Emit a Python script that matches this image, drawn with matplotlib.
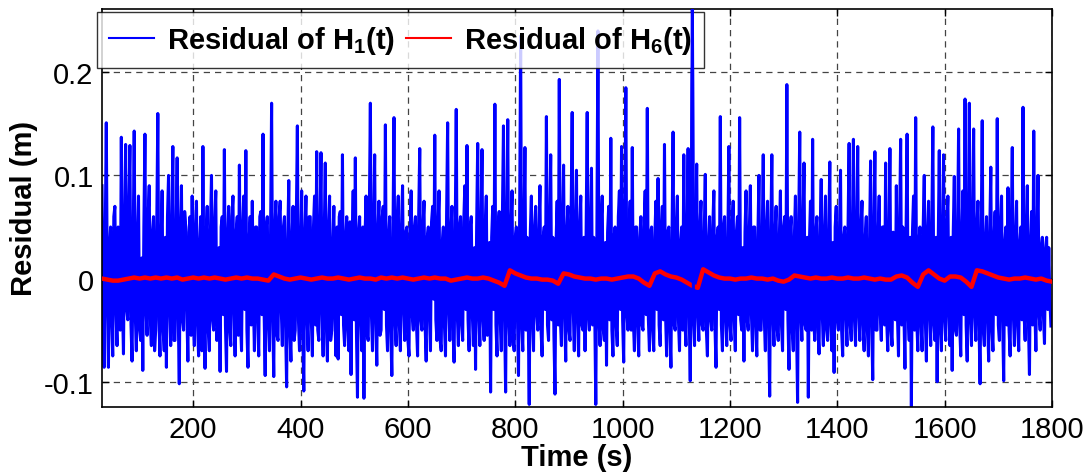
import numpy as np
import matplotlib
matplotlib.use("Agg")
import matplotlib.pyplot as plt
from matplotlib.ticker import FixedLocator, FixedFormatter

# ---------------- data ----------------
blue_t0, blue_dt = 30, 2          # sample grid of H1 residual (s)
resid_h1 = [
    # 30 .. 128
    0.09, -0.03, -0.086, 0.04, 0.151, -0.02, -0.086, 0.03, 0.05, -0.04, -0.075, 0.06, 0.07, -0.03,
    -0.065, 0.05, 0.04, -0.05, 0.137, -0.02, -0.073, 0.05, 0.130, -0.03, -0.04, 0.07, 0.129, -0.045,
    -0.080, 0.03, 0.143, -0.035, -0.07, 0.04, 0.08, -0.05, -0.06, 0.02, -0.089, 0.05, 0.140, -0.03,
    -0.055, 0.06, 0.09, -0.04, -0.065, 0.045, 0.06, -0.07,
    # 130 .. 228
    -0.05, 0.05, 0.160, -0.04, -0.075, 0.03, 0.085, -0.05, -0.07, 0.04, -0.086, 0.06, 0.10, -0.03,
    -0.065, 0.05, 0.128, -0.06, -0.06, 0.04, 0.117, -0.035, -0.102, 0.05, 0.09, -0.04, -0.05, 0.065,
    0.05, -0.03, -0.08, 0.045, 0.06, -0.055, 0.08, -0.02, -0.065, 0.05, 0.075, -0.045, -0.075, 0.035,
    0.06, -0.07, 0.128, -0.03, -0.087, 0.04, 0.07, -0.05,
    # 230 .. 328
    -0.07, 0.045, 0.10, -0.04, -0.05, 0.055, 0.085, -0.06, -0.04, 0.03, -0.090, 0.05, 0.06, -0.035,
    0.125, -0.045, -0.090, 0.04, 0.07, -0.05, -0.065, 0.06, 0.08, -0.03, -0.075, 0.045, 0.06, -0.055,
    0.110, -0.04, -0.07, 0.05, 0.08, -0.03, 0.124, -0.05, -0.086, 0.035, 0.06, -0.045, 0.075, -0.02,
    -0.07, 0.05, 0.05, -0.04, -0.075, 0.06, 0.065, -0.035,
    # 330 .. 428
    0.140, -0.03, -0.094, 0.05, 0.06, -0.045, -0.07, 0.04, 0.170, -0.035, -0.095, 0.045, 0.075, -0.055,
    -0.06, 0.06, 0.075, -0.03, -0.065, 0.05, 0.06, -0.045, -0.105, 0.035, 0.095, -0.05, -0.08, 0.04,
    0.07, -0.06, -0.05, 0.055, 0.148, -0.04, -0.07, 0.03, 0.085, -0.05, -0.109, 0.045, 0.08, -0.035,
    -0.07, 0.06, 0.06, -0.04, -0.075, 0.05, 0.08, -0.045,
    # 430 .. 528
    0.123, -0.05, -0.06, 0.045, 0.122, -0.03, -0.075, 0.04, 0.112, -0.045, -0.08, 0.05, 0.08, -0.06,
    -0.05, 0.035, 0.07, -0.04, -0.075, 0.05, -0.078, 0.06, 0.065, -0.035, 0.120, -0.045, -0.065, 0.04,
    0.06, -0.05, -0.07, 0.055, -0.093, 0.03, 0.085, -0.04, 0.117, -0.05, -0.115, 0.045, 0.06, -0.035,
    -0.07, 0.05, -0.116, 0.04, 0.08, -0.055, -0.06, 0.06,
    # 530 .. 628
    0.170, -0.035, -0.07, 0.05, 0.120, -0.04, -0.084, 0.045, 0.075, -0.055, -0.05, 0.06, 0.07, -0.03,
    0.149, -0.045, -0.07, 0.04, 0.06, -0.05, -0.094, 0.035, 0.156, -0.04, -0.065, 0.055, 0.08, -0.045,
    -0.07, 0.05, 0.09, -0.03, -0.06, 0.045, 0.05, -0.06, -0.075, 0.04, 0.085, -0.035, -0.05, 0.05,
    0.06, -0.045, -0.075, 0.06, 0.126, -0.04, -0.05, 0.05,
    # 630 .. 728
    0.075, -0.045, -0.08, 0.04, 0.05, -0.035, -0.07, 0.055, 0.07, -0.02, 0.139, -0.04, -0.06, 0.05,
    0.085, -0.06, -0.07, 0.035, 0.05, -0.045, -0.075, 0.06, 0.151, -0.03, -0.06, 0.045, 0.07, -0.05,
    -0.081, 0.04, 0.164, -0.035, -0.065, 0.05, 0.06, -0.045, -0.06, 0.055, 0.09, -0.03, 0.129, -0.04,
    -0.07, 0.05, 0.06, -0.035, -0.065, 0.03, -0.088, 0.05,
    # 730 .. 828
    0.131, -0.035, -0.065, 0.045, 0.125, -0.04, -0.06, 0.05, 0.08, -0.055, -0.05, 0.035, -0.110, 0.04,
    0.07, -0.03, 0.169, -0.045, -0.075, 0.05, 0.065, -0.04, -0.07, 0.06, 0.148, -0.035, -0.110, 0.045,
    0.154, -0.04, -0.065, 0.05, 0.085, -0.06, -0.07, 0.04, 0.05, -0.035, -0.094, 0.05, 0.235, -0.045,
    -0.07, 0.04, 0.127, -0.05, 0.04, -0.03, -0.122, 0.045,
    # 830 .. 928
    0.08, -0.04, -0.07, 0.05, 0.07, -0.035, -0.05, 0.045, 0.09, -0.05, -0.075, 0.04, 0.05, -0.03,
    0.157, -0.045, -0.06, 0.05, 0.12, -0.04, 0.04, -0.055, -0.112, 0.035, 0.075, -0.045, 0.193, -0.04,
    -0.065, 0.05, 0.11, -0.035, -0.08, 0.045, 0.07, -0.05, -0.06, 0.06, 0.161, -0.03, -0.07, 0.045,
    0.105, -0.04, -0.075, 0.05, 0.08, -0.045, -0.05, 0.04,
    # 930 .. 1028
    -0.07, 0.045, 0.161, -0.035, -0.05, 0.05, 0.107, -0.045, 0.04, -0.03, -0.122, 0.04, 0.24, -0.04,
    -0.065, 0.055, 0.08, -0.05, -0.06, 0.035, -0.084, 0.045, 0.07, -0.04, 0.136, -0.05, -0.075, 0.04,
    0.05, -0.045, -0.065, 0.06, 0.085, -0.03, 0.128, -0.04, -0.081, 0.05, 0.185, -0.035, -0.05, 0.045,
    0.075, -0.05, 0.127, -0.04, -0.07, 0.05, 0.05, -0.045,
    # 1030 .. 1128
    -0.075, 0.04, 0.06, -0.045, -0.05, 0.05, 0.085, -0.035, 0.165, -0.04, -0.07, 0.045, 0.05, -0.05,
    -0.07, 0.04, 0.075, -0.03, 0.097, -0.045, -0.065, 0.05, 0.07, -0.04, 0.130, -0.035, -0.075, 0.045,
    0.05, -0.05, -0.086, 0.04, 0.142, -0.045, -0.05, 0.05, 0.08, -0.04, -0.07, 0.035, 0.05, -0.05,
    0.120, -0.04, -0.065, 0.045, 0.126, -0.03, -0.099, 0.05,
    # 1130 .. 1228
    0.261, -0.04, -0.065, 0.045, 0.111, -0.035, -0.06, 0.05, 0.075, -0.045, -0.05, 0.04, 0.101, -0.05,
    -0.075, 0.035, 0.06, -0.04, -0.05, 0.05, 0.085, -0.045, -0.086, 0.04, 0.05, -0.03, 0.157, -0.045,
    -0.07, 0.05, 0.06, -0.04, -0.065, 0.035, 0.128, -0.045, -0.06, 0.05, 0.075, -0.04, -0.07, 0.045,
    0.06, -0.035, 0.156, -0.04, -0.05, 0.03, -0.08, 0.045,
    # 1230 .. 1328
    0.085, -0.04, -0.05, 0.045, 0.09, -0.035, -0.07, 0.05, 0.05, -0.045, -0.075, 0.04, 0.10, -0.05,
    -0.05, 0.035, 0.120, -0.04, -0.07, 0.05, 0.075, -0.045, -0.114, 0.04, 0.120, -0.035, -0.065, 0.045,
    0.07, -0.05, -0.06, 0.04, 0.085, -0.045, -0.07, 0.05, 0.06, -0.03, 0.188, -0.04, -0.088, 0.045,
    0.06, -0.05, -0.07, 0.04, 0.08, -0.045, -0.120, 0.05,
    # 1330 .. 1428
    0.142, -0.035, -0.06, 0.05, 0.112, -0.045, -0.05, 0.04, -0.115, 0.035, 0.075, -0.05, 0.135, -0.04,
    -0.06, 0.045, 0.06, -0.05, -0.073, 0.04, 0.096, -0.035, -0.065, 0.045, 0.08, -0.05, -0.06, 0.04,
    0.113, -0.045, -0.07, 0.035, -0.091, 0.05, 0.07, -0.04, -0.05, 0.045, 0.105, -0.05, -0.075, 0.04,
    0.05, -0.035, -0.065, 0.05, 0.131, -0.045, -0.06, 0.04,
    # 1430 .. 1528
    0.135, -0.04, -0.065, 0.045, 0.128, -0.035, -0.06, 0.05, 0.075, -0.045, -0.07, 0.04, 0.06, -0.05,
    -0.075, 0.035, 0.114, -0.04, -0.098, 0.045, 0.123, -0.05, -0.05, 0.04, 0.08, -0.035, -0.06, 0.05,
    0.05, -0.045, 0.112, -0.04, -0.07, 0.035, 0.126, -0.05, -0.065, 0.045, 0.04, -0.04, 0.09, -0.035,
    -0.075, 0.05, 0.135, -0.045, 0.05, -0.03, -0.087, 0.04,
    # 1530 .. 1628
    0.140, -0.035, -0.06, 0.04, -0.124, 0.045, 0.08, -0.05, 0.156, -0.04, -0.07, 0.035, 0.05, -0.045,
    -0.07, 0.05, 0.10, -0.04, -0.08, 0.045, 0.075, -0.035, -0.065, 0.05, 0.147, -0.045, -0.06, 0.04,
    -0.10, 0.035, 0.124, -0.05, -0.07, 0.045, 0.12, -0.04, -0.06, 0.05, 0.08, -0.035, -0.065, 0.04,
    -0.089, 0.045, 0.099, -0.05, -0.055, 0.04, 0.145, -0.045,
    # 1630 .. 1728
    -0.075, 0.04, 0.085, -0.035, 0.174, -0.045, -0.08, 0.05, 0.170, -0.04, -0.065, 0.045, 0.145, -0.035,
    -0.06, 0.05, 0.075, -0.045, -0.102, 0.04, 0.153, -0.05, -0.065, 0.035, 0.06, -0.04, -0.08, 0.045,
    0.108, -0.05, -0.07, 0.04, 0.065, -0.035, 0.155, -0.045, -0.06, 0.05, 0.08, -0.04, -0.099, 0.035,
    0.05, -0.045, 0.088, -0.05, -0.075, 0.04, 0.127, -0.035,
    # 1730 .. 1798
    -0.065, 0.04, 0.075, -0.045, -0.07, 0.035, 0.05, -0.04, 0.166, -0.035, -0.06, 0.045, 0.09, -0.04,
    -0.093, 0.035, 0.065, -0.045, 0.143, -0.03, -0.07, 0.04, 0.10, -0.035, -0.05, 0.03, 0.04, -0.035,
    -0.063, 0.03, 0.04, -0.03, 0.03, -0.02, -0.046,
]

red_t0, red_dt = 30, 10           # sample grid of H6 residual (s)
resid_h6 = [
    0.000, -0.001, -0.002, -0.002, -0.001, 0.000, 0.001, 0.000, 0.001, 0.000,
    0.001, 0.000, 0.001, 0.000, 0.001, -0.001, 0.000, 0.001, 0.000, 0.001,
    0.000, 0.001, 0.000, -0.001, 0.000, 0.001, 0.000, 0.001, 0.000, 0.000,
    -0.001, -0.002, 0.004, 0.002, 0.000, -0.001, 0.000, 0.001, 0.000, -0.001,
    0.000, 0.001, 0.000, 0.000, 0.001, 0.000, -0.001, 0.000, 0.001, 0.000,
    0.000, -0.001, 0.001, 0.000, 0.001, 0.000, 0.001, 0.000, -0.001, 0.000,
    0.001, 0.000, 0.001, 0.000, 0.000, -0.002, -0.001, 0.000, 0.001, 0.000,
    0.000, 0.001, 0.000, -0.002, -0.004, -0.007, 0.008, 0.005, 0.003, 0.001,
    0.000, 0.000, -0.001, -0.001, -0.002, -0.005, 0.005, 0.004, 0.002, 0.001,
    0.000, 0.000, -0.001, 0.000, 0.000, -0.001, 0.000, 0.001, 0.002, 0.002,
    0.000, -0.004, -0.007, 0.005, 0.007, 0.004, 0.002, 0.001, -0.001, -0.004,
    -0.007, -0.009, 0.009, 0.006, 0.003, 0.001, 0.000, 0.000, -0.001, 0.000,
    0.000, 0.001, 0.000, 0.000, -0.001, 0.000, -0.002, -0.003, -0.001, 0.003,
    0.002, 0.001, 0.000, 0.001, 0.000, 0.000, 0.001, 0.000, 0.000, 0.001,
    0.000, 0.000, 0.001, 0.000, -0.001, 0.000, -0.001, -0.001, 0.002, 0.003,
    0.001, -0.004, -0.008, 0.004, 0.008, 0.004, 0.000, -0.002, 0.002, 0.002,
    0.001, -0.003, -0.008, 0.008, 0.007, 0.005, 0.003, 0.001, 0.000, -0.001,
    0.000, 0.000, 0.001, 0.000, -0.001, 0.000, -0.002, -0.003,
]

x_ticks = [200, 400, 600, 800, 1000, 1200, 1400, 1600, 1800]
x_tick_labels = ["200", "400", "600", "800", "1000", "1200", "1400", "1600", "1800"]
y_ticks = [-0.1, 0.0, 0.1, 0.2]
y_tick_labels = ["-0.1", "0", "0.1", "0.2"]
x_limits = (30, 1800)
y_limits = (-0.1242, 0.2613)
legend_labels = [r"Residual of H$_{1}$(t)", r"Residual of H$_{6}$(t)"]
x_label = "Time (s)"
y_label = "Residual (m)"

# ---------------- styling ----------------
plt.rcParams["font.family"] = ["Liberation Sans", "DejaVu Sans"]
plt.rcParams["mathtext.fontset"] = "custom"
plt.rcParams["mathtext.rm"] = "Liberation Sans:bold"
plt.rcParams["mathtext.bf"] = "Liberation Sans:bold"
plt.rcParams["mathtext.default"] = "rm"
plt.rcParams["axes.unicode_minus"] = False
plt.rcParams["path.simplify"] = False
plt.rcParams["agg.path.chunksize"] = 0

FS = 21
BLUE_LW = 2.2

t_h1 = blue_t0 + blue_dt * np.arange(len(resid_h1))
t_h6 = red_t0 + red_dt * np.arange(len(resid_h6))

fig = plt.figure(figsize=(10.91, 4.77), dpi=100)
ax = fig.add_axes([102 / 1091, 1 - 407.7 / 477, (1052 - 102) / 1091, (407.7 - 10) / 477])

l1, = ax.plot(t_h1, resid_h1, color="#0000FF", lw=BLUE_LW, zorder=2)
l2, = ax.plot(t_h6, resid_h6, color="#FF0000", lw=3.2, zorder=3)

# the tallest H1 spike is drawn across the legend in the reference
imax = int(np.argmax(resid_h1))
ax.plot(t_h1[imax - 1:imax + 2], resid_h1[imax - 1:imax + 2], color="#0000FF",
        lw=BLUE_LW, zorder=6)

ax.set_xlim(*x_limits)
ax.set_ylim(*y_limits)
ax.xaxis.set_major_locator(FixedLocator(x_ticks))
ax.xaxis.set_major_formatter(FixedFormatter(x_tick_labels))
ax.yaxis.set_major_locator(FixedLocator(y_ticks))
ax.yaxis.set_major_formatter(FixedFormatter(y_tick_labels))

ax.tick_params(direction="in", length=5, width=1, top=True, right=True,
               labelsize=FS, pad=6, colors="black")
ax.grid(True, color="#444444", linestyle=(0, (5, 4)), linewidth=0.9)
ax.set_axisbelow(True)
for s in ax.spines.values():
    s.set_linewidth(1.2)
    s.set_color("black")

ax.set_xlabel(x_label, fontsize=FS, fontweight="bold", labelpad=0)
ax.set_ylabel(y_label, fontsize=FS, fontweight="bold", labelpad=4)

leg = ax.legend([l1, l2], legend_labels, ncol=2, loc="upper left",
                bbox_to_anchor=(-0.005, 0.992), frameon=True, fancybox=False,
                handlelength=1.55, handletextpad=0.45, columnspacing=0.35,
                borderpad=0.4, borderaxespad=0.0, prop={"weight": "bold", "size": FS})
leg.get_frame().set_edgecolor("black")
leg.get_frame().set_linewidth(1.0)
leg.set_zorder(5)
for lh in leg.get_lines():
    lh.set_linewidth(1.5)

fig.savefig("out.png", dpi=100)
